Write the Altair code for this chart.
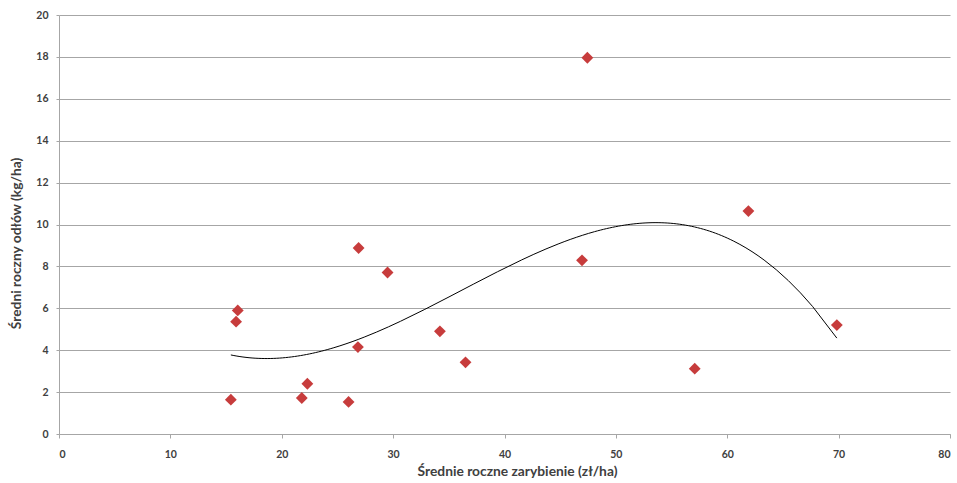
import altair as alt
import pandas as pd

zarybienie = [15.43, 15.9, 16.05, 21.8, 22.3, 26.0, 26.84, 26.9, 29.5, 34.2, 36.5,
              46.96, 47.44, 57.08, 61.9, 69.84]
odlow = [1.64, 5.36, 5.9, 1.72, 2.4, 1.53, 4.15, 8.88, 7.71, 4.9, 3.42,
         8.29, 17.96, 3.12, 10.64, 5.2]

df = pd.DataFrame({"x": zarybienie, "y": odlow})

FONT = "Lato"

xenc = alt.X("x:Q", scale=alt.Scale(domain=[0, 80], nice=False),
             axis=alt.Axis(title="Średnie roczne zarybienie (zł/ha)", values=list(range(0, 81, 10)),
                           grid=False, tickSize=4, labelPadding=11, titleX=458, titleY=30,
                           titleBaseline="top"))
yenc = alt.Y("y:Q", scale=alt.Scale(domain=[0, 20], nice=False),
             axis=alt.Axis(title="Średni roczny odłów (kg/ha)", values=list(range(0, 21, 2)),
                           grid=True, tickSize=3, labelPadding=8, titleX=-36, titleY=228,
                           titleAngle=-90, titleBaseline="bottom"))

points = alt.Chart(df).mark_point(shape="diamond", filled=True, size=140, color="#c73c3c",
                                  opacity=1).encode(x=xenc, y=yenc)

trend = alt.Chart(df).transform_regression("x", "y", method="poly", order=3).mark_line(
    color="#000000", strokeWidth=1).encode(x="x:Q", y="y:Q")

chart = (trend + points).properties(width=891, height=419, padding={"left": 59, "top": 15, "right": 7, "bottom": 49},
                                    autosize=alt.AutoSizeParams(type="none")).configure_view(
    stroke=None).configure_axis(
    labelFont=FONT, titleFont=FONT, labelFontSize=10.5, titleFontSize=13.8, labelFontWeight="bold",
    titleFontWeight="bold", labelColor="#404040", titleColor="#404040",
    domainColor="#a6a6a6", tickColor="#a6a6a6", gridColor="#a6a6a6", gridWidth=1, domainWidth=1)

chart.save("out.html", embed_options={"renderer": "svg", "actions": False})
